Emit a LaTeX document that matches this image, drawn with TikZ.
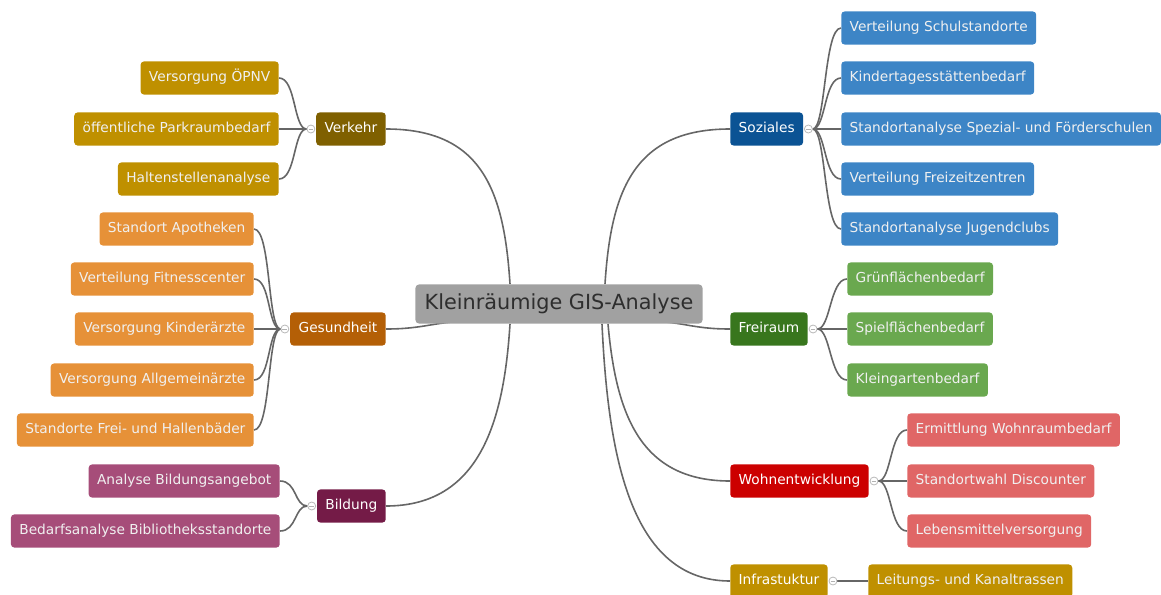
\documentclass[tikz,border=0pt]{standalone}
\usepackage{fontspec}
\setmainfont{DejaVu Sans}
\usetikzlibrary{positioning,calc,backgrounds}
\definecolor{sozdark}{HTML}{0B5394}
\definecolor{sozlight}{HTML}{3D85C6}
\definecolor{freidark}{HTML}{38761D}
\definecolor{freilight}{HTML}{6AA84F}
\definecolor{wohndark}{HTML}{CC0000}
\definecolor{wohnlight}{HTML}{E06666}
\definecolor{gold}{HTML}{BF9000}
\definecolor{verkdark}{HTML}{7F6000}
\definecolor{gesdark}{HTML}{B45F06}
\definecolor{geslight}{HTML}{E69138}
\definecolor{bilddark}{HTML}{741B47}
\definecolor{bildlight}{HTML}{A64D79}
\definecolor{linkgray}{HTML}{666666}

\begin{document}
\begin{tikzpicture}[x=0.75pt,y=-0.75pt,
  box/.style={rounded corners=2.5pt,minimum height=24.8pt,inner xsep=6.3pt,
    text height=7.6pt,text depth=2pt,text=white,font=\fontsize{10.3}{12}\selectfont},
  topic/.style={box,fill=#1},
  leaf/.style={box,fill=#1,text=white!94!black},
  fold/.style={circle,draw=gray!55,fill=white,line width=0.6pt,inner sep=0pt,minimum size=6pt,
    path picture={\draw[gray!60,line width=0.6pt] ([xshift=-1.8pt]path picture bounding box.center)
      -- ([xshift=1.8pt]path picture bounding box.center);}},
  link/.style={draw=linkgray,line width=1.2pt}]
\useasboundingbox (0,0) rectangle (1161,594);

% center
\node[rounded corners=3pt,fill=black!37,minimum height=29.5pt,inner xsep=7pt,
  text=black!82,font=\fontsize{15.6}{18}\selectfont] (root) at (559,304) {Kleinräumige GIS-Analyse};

% right side
\node[topic=sozdark,anchor=west] (soz) at (730,129) {Soziales};
\node[fold,right=0.5pt of soz] (soz-f) {};
\node[leaf=sozlight,anchor=west] (soz1) at (841,28) {Verteilung Schulstandorte};
\node[leaf=sozlight,anchor=west] (soz2) at (841,78) {Kindertagesstättenbedarf};
\node[leaf=sozlight,anchor=west] (soz3) at (841,129) {Standortanalyse Spezial- und Förderschulen};
\node[leaf=sozlight,anchor=west] (soz4) at (841,179) {Verteilung Freizeitzentren};
\node[leaf=sozlight,anchor=west] (soz5) at (841,229) {Standortanalyse Jugendclubs};

\node[topic=freidark,anchor=west] (frei) at (730,329) {Freiraum};
\node[fold,right=0.5pt of frei] (frei-f) {};
\node[leaf=freilight,anchor=west] (frei1) at (847,279) {Grünflächenbedarf};
\node[leaf=freilight,anchor=west] (frei2) at (847,329) {Spielflächenbedarf};
\node[leaf=freilight,anchor=west] (frei3) at (847,380) {Kleingartenbedarf};

\node[topic=wohndark,anchor=west] (wohn) at (730,481) {Wohnentwicklung};
\node[fold,right=0.5pt of wohn] (wohn-f) {};
\node[leaf=wohnlight,anchor=west] (wohn1) at (907,430) {Ermittlung Wohnraumbedarf};
\node[leaf=wohnlight,anchor=west] (wohn2) at (907,481) {Standortwahl Discounter};
\node[leaf=wohnlight,anchor=west] (wohn3) at (907,531) {Lebensmittelversorgung};

\node[topic=gold,anchor=west] (infra) at (730,581) {Infrastuktur};
\node[fold,right=0.5pt of infra] (infra-f) {};
\node[leaf=gold,anchor=west] (infra1) at (868,581) {Leitungs- und Kanaltrassen};

% left side
\node[topic=verkdark,anchor=east] (verk) at (386,129) {Verkehr};
\node[fold,left=0.5pt of verk] (verk-f) {};
\node[leaf=gold,anchor=east] (verk1) at (279,78) {Versorgung ÖPNV};
\node[leaf=gold,anchor=east] (verk2) at (279,129) {öffentliche Parkraumbedarf};
\node[leaf=gold,anchor=east] (verk3) at (279,179) {Haltenstellenanalyse};

\node[topic=gesdark,anchor=east] (ges) at (386,329) {Gesundheit};
\node[fold,left=0.5pt of ges] (ges-f) {};
\node[leaf=geslight,anchor=east] (ges1) at (254,229) {Standort Apotheken};
\node[leaf=geslight,anchor=east] (ges2) at (254,279) {Verteilung Fitnesscenter};
\node[leaf=geslight,anchor=east] (ges3) at (254,329) {Versorgung Kinderärzte};
\node[leaf=geslight,anchor=east] (ges4) at (254,380) {Versorgung Allgemeinärzte};
\node[leaf=geslight,anchor=east] (ges5) at (254,430) {Standorte Frei- und Hallenbäder};

\node[topic=bilddark,anchor=east] (bild) at (386,506) {Bildung};
\node[fold,left=0.5pt of bild] (bild-f) {};
\node[leaf=bildlight,anchor=east] (bild1) at (280,481) {Analyse Bildungsangebot};
\node[leaf=bildlight,anchor=east] (bild2) at (280,531) {Bedarfsanalyse Bibliotheksstandorte};

\begin{scope}[on background layer]
% main branches
\draw[link] (verk.east) .. controls +(95,0) and +(-6,-95) .. ($(root.north)+(-49,0)$);
\draw[link] (ges.east) .. controls +(40,0) and +(-40,0) .. ($(root.south west)+(60,-3)$);
\draw[link] (bild.east) .. controls +(95,0) and +(-6,95) .. ($(root.south)+(-49,0)$);
\draw[link] (soz.west) .. controls +(-95,0) and +(6,-95) .. ($(root.north)+(46,0)$);
\draw[link] (frei.west) .. controls +(-40,0) and +(40,0) .. ($(root.south east)+(-60,-3)$);
\draw[link] (wohn.west) .. controls +(-90,0) and +(8,90) .. ($(root.south)+(49,0)$);
\draw[link] (infra.west) .. controls +(-100,0) and +(6,130) .. ($(root.south)+(43,0)$);
% sub branches
\foreach \c in {soz1,soz2,soz3,soz4,soz5}
  \draw[link] (soz-f.east) .. controls +(13,0) and +(-17,0) .. (\c.west);
\foreach \c in {frei1,frei2,frei3}
  \draw[link] (frei-f.east) .. controls +(13,0) and +(-17,0) .. (\c.west);
\foreach \c in {wohn1,wohn2,wohn3}
  \draw[link] (wohn-f.east) .. controls +(13,0) and +(-17,0) .. (\c.west);
\draw[link] (infra-f.east) -- (infra1.west);
\foreach \c in {verk1,verk2,verk3}
  \draw[link] (verk-f.west) .. controls +(-13,0) and +(17,0) .. (\c.east);
\foreach \c in {ges1,ges2,ges3,ges4,ges5}
  \draw[link] (ges-f.west) .. controls +(-13,0) and +(17,0) .. (\c.east);
\foreach \c in {bild1,bild2}
  \draw[link] (bild-f.west) .. controls +(-13,0) and +(17,0) .. (\c.east);
\end{scope}
\end{tikzpicture}
\end{document}
